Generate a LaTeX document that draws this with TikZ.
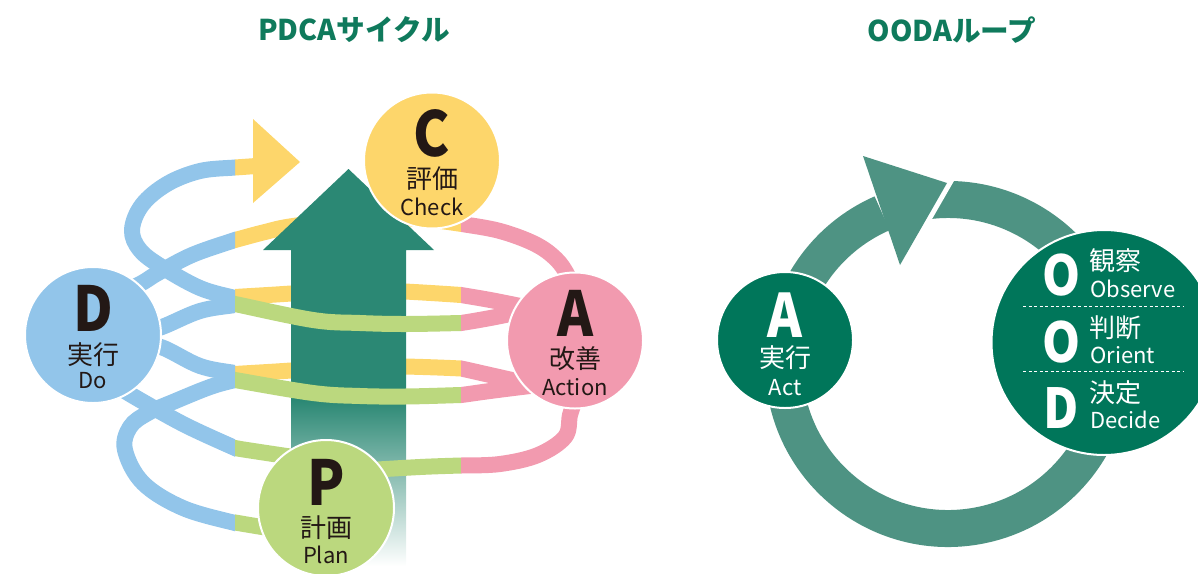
\documentclass[tikz,border=0pt]{standalone}
\usepackage{fontspec}
\setmainfont{Noto Sans CJK JP}
\newfontfamily\letterfont[FakeStretch=0.88]{Noto Sans CJK JP}
\usetikzlibrary{calc}

\definecolor{pdBlue}{HTML}{92C5EA}
\definecolor{pdYellow}{HTML}{FDD66B}
\definecolor{pdPink}{HTML}{F29AAF}
\definecolor{pdGreen}{HTML}{BBD87E}
\definecolor{pdArrow}{HTML}{2B8874}
\definecolor{ooRing}{HTML}{4E9383}
\definecolor{ooCircle}{HTML}{00765A}
\definecolor{titleGreen}{HTML}{0F7A5C}
\definecolor{inkDark}{HTML}{231815}

\begin{document}
\begin{tikzpicture}[x=1pt,y=-1pt,
  band/.style={line width=16pt,line cap=butt,line join=round},
  disc/.style={circle,draw=white,line width=2pt,inner sep=0pt},
  bigletter/.style={font=\letterfont\bfseries\fontsize{#1}{#1}\selectfont,inner sep=0pt},
  kanji/.style={font=\fontsize{26}{26}\selectfont,inner sep=0pt,text depth=0pt},
  latin/.style={font=\fontsize{22}{22}\selectfont,inner sep=0pt,text height=14pt},
  title/.style={font=\bfseries\fontsize{28.6}{30}\selectfont,text=titleGreen,inner sep=0pt}]
  \clip (0,0) rectangle (1198,573);

  \node[title] (tPDCA) at (354,30) {PDCAサイクル};
  \node[title] (tOODA) at (952,30) {OODAループ};

  % back strands
  \begin{scope}
    \clip (235,0) rectangle (461,573);
    \draw[band,pdYellow] plot[smooth,tension=0.6] coordinates {(225,168) (235,167.5) (256,166)};
    \draw[band,pdYellow] plot[smooth,tension=0.6] coordinates {(225,242.5) (235,240) (265,232) (293,226) (360,218) (420,219) (462,224) (472,226)};
    \draw[band,pdYellow] plot[smooth,tension=0.6] coordinates {(225,298) (235,297) (291,293.5) (348,289) (405,291.5) (461,295) (471,296.5)};
    \draw[band,pdYellow] plot[smooth,tension=0.6] coordinates {(225,375) (235,374) (291,370.5) (348,366) (405,366.5) (461,368.5) (471,370)};
  \end{scope}
  \fill[pdYellow] (253,119) -- (300,162) -- (253,203) -- cycle;

  \begin{scope}
    \clip (0,0) rectangle (235,573);
    \draw[band,pdBlue] plot[smooth,tension=0.6] coordinates {(245,166.5) (235,167.5) (200,171) (167,184) (142,205) (132,230) (140,250) (162,267) (200,288) (235,298) (245,300)};
    \draw[band,pdBlue] plot[smooth,tension=0.6] coordinates {(110,298) (140,284) (158,273) (192,255) (235,240) (245,237)};
    \draw[band,pdBlue] plot[smooth,tension=0.6] coordinates {(135,335) (162,327) (200,311) (235,305) (245,303.3)};
    \draw[band,pdBlue] plot[smooth,tension=0.6] coordinates {(135,344) (161,347) (200,366) (235,373) (245,374.5)};
    \draw[band,pdBlue] plot[smooth,tension=0.6] coordinates {(120,388) (140,400) (185,425) (235,448) (245,452)};
    \draw[band,pdBlue] plot[smooth,tension=0.6] coordinates {(245,524.5) (235,523) (183,508) (143,483) (125,450) (130,427) (148,413) (173,402) (210,387) (235,380) (245,378)};
  \end{scope}

  % big arrow
  \fill[pdArrow] (263,250) -- (348.5,169) -- (434,250) -- (406,250) -- (406,401) -- (291,401) -- (291,250) -- cycle;
  \shade[top color=pdArrow,bottom color=white] (291,400) rectangle (406,566);

  % front strands
  \begin{scope}
    \clip (235,0) rectangle (461,573);
    \draw[band,pdGreen] plot[smooth,tension=0.6] coordinates {(225,302) (235,304) (313,320) (360,323) (405,324) (461,323) (471,322.5)};
    \draw[band,pdGreen] plot[smooth,tension=0.6] coordinates {(225,378) (235,380) (313,393) (360,396) (405,396.5) (461,395) (471,394.5)};
    \draw[band,pdGreen] plot[smooth,tension=0.6] coordinates {(225,445) (235,448) (260,452) (300,458)};
    \draw[band,pdGreen] plot[smooth,tension=0.6] coordinates {(225,521) (235,522.5) (262,527) (290,531)};
    \draw[band,pdGreen] plot[smooth,tension=0.6] coordinates {(471,465.5) (461,465.5) (420,467) (370,470)};
  \end{scope}
  \begin{scope}
    \clip (461,0) rectangle (700,573);
    \draw[band,pdPink] plot[smooth,tension=0.6] coordinates {(452,222.5) (462,224) (500,231) (535,244) (556,259) (568,276) (575,295)};
    \draw[band,pdPink] plot[smooth,tension=0.6] coordinates {(451,293.5) (461,295) (493,300.5) (530,308) (550,312)};
    \draw[band,pdPink] plot[smooth,tension=0.6] coordinates {(451,323.5) (461,323) (493,317.5) (530,310) (550,307)};
    \draw[band,pdPink] plot[smooth,tension=0.6] coordinates {(451,367) (461,368.5) (490,375) (530,384) (550,388)};
    \draw[band,pdPink] plot[smooth,tension=0.6] coordinates {(451,395.5) (461,395) (490,391) (530,386) (550,384)};
    \draw[band,pdPink] plot[smooth,tension=0.6] coordinates {(575,400) (570,415) (565,437) (538,455) (500,464) (461,465.5) (451,465.5)};
  \end{scope}

  % PDCA circles
  \node[disc,minimum size=136pt,fill=pdYellow] (C) at (432,160.5) {};
  \node[disc,minimum size=136pt,fill=pdBlue] (D) at (93,335) {};
  \node[disc,minimum size=136pt,fill=pdPink] (A) at (575,340.5) {};
  \node[disc,minimum size=136pt,fill=pdGreen] (P) at (326,508) {};

  \node[bigletter=62,text=inkDark] (Cl) at ($(C)+(0,-27)$) {C};
  \node[kanji,text=inkDark] (Ck) at ($(C)+(0,17.5)$) {評価};
  \node[latin,text=inkDark,anchor=base] (Ce) at ($(C)+(0,55)$) {Check};
  \node[bigletter=62,text=inkDark] (Dl) at ($(D)+(0,-27)$) {D};
  \node[kanji,text=inkDark] (Dk) at ($(D)+(0,18.5)$) {実行};
  \node[latin,text=inkDark,anchor=base] (De) at ($(D)+(0,53)$) {Do};
  \node[bigletter=62,text=inkDark] (Al) at ($(A)+(0,-27)$) {A};
  \node[kanji,text=inkDark] (Ak) at ($(A)+(0,17)$) {改善};
  \node[latin,text=inkDark,anchor=base] (Ae) at ($(A)+(0,55)$) {Action};
  \node[bigletter=62,text=inkDark] (Pl) at ($(P)+(0,-26)$) {P};
  \node[kanji,text=inkDark] (Pk) at ($(P)+(0,18.5)$) {計画};
  \node[latin,text=inkDark,anchor=base] (Pe) at ($(P)+(0,55)$) {Plan};

  % OODA loop
  \coordinate (ooC) at (948,364);
  \draw[ooRing,line width=37pt] (ooC) ++(-100:164.5) arc[start angle=-100,end angle=246.4,radius=164.5];
  \fill[white] (962,167) -- (920,240) -- (895,240) -- (870,167) -- cycle;
  \fill[ooRing] (863,156) -- (947,183) -- (900,265) -- cycle;

  \node[disc,minimum size=136pt,fill=ooCircle] (oA) at (785,340) {};
  \node[disc,minimum size=225pt,fill=ooCircle] (oOOD) at (1104,342.5) {};

  \node[bigletter=60,text=white] (oAl) at ($(oA)+(0,-25)$) {A};
  \node[kanji,text=white] (oAk) at ($(oA)+(0,17)$) {実行};
  \node[latin,text=white,anchor=base] (oAe) at ($(oA)+(0,55)$) {Act};

  \node[bigletter=55,text=white] (O1) at (1061.5,275) {O};
  \node[kanji,text=white,anchor=west] (O1k) at (1089,260) {観察};
  \node[latin,text=white,anchor=base west] (O1e) at (1090,297) {Observe};
  \draw[white,line width=1pt,dash pattern=on 3pt off 2.5pt] (1023,306) -- (1183,306);
  \node[bigletter=55,text=white] (O2) at (1061.5,342) {O};
  \node[kanji,text=white,anchor=west] (O2k) at (1089,327) {判断};
  \node[latin,text=white,anchor=base west] (O2e) at (1090,363) {Orient};
  \draw[white,line width=1pt,dash pattern=on 3pt off 2.5pt] (1023,371) -- (1183,371);
  \node[bigletter=55,text=white] (D2) at (1061.5,408) {D};
  \node[kanji,text=white,anchor=west] (D2k) at (1089,392) {決定};
  \node[latin,text=white,anchor=base west] (D2e) at (1090,428) {Decide};
\end{tikzpicture}
\end{document}
